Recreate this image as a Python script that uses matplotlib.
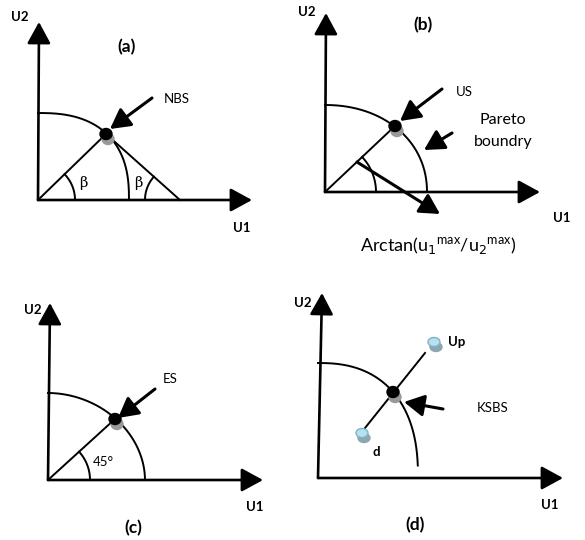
import numpy as np
import matplotlib.pyplot as plt
from matplotlib.patches import Ellipse

# Four bargaining-solution sketches, drawn in pixel space (y down).
panels = ["(a)", "(b)", "(c)", "(d)"]
origins = [(38, 200), (325, 192), (48, 480), (318, 478)]
y_tips = [(39, 22), (326, 13), (50, 303), (322, 293)]
x_tips = [(252, 200), (540, 192), (263, 480), (563, 478)]
arc_rx = [91, 102, 97, 100]
arc_ry = [87, 87, 87, 115]
arc_pow = [2.5, 2.1, 1.95, 2.4]
arc_span = [(0, 90), (0, 90), (0, 90), (4, 90)]
sol_pts = [(106, 134), (395, 126), (115, 419), (393, 392)]
sol_names = ["NBS", "US", "ES", "KSBS"]
sol_arrow_from = [(152, 98), (442, 89), (155, 389), (443, 409)]
sol_arrow_to = [(110, 129), (400, 121), (118, 418), (404, 402)]
sol_text_at = [(164, 99), (456, 92), (163, 379), (477, 408)]
title_at = [(127, 47), (423, 25), (133, 528), (415, 525)]
u1_at = [(242, 228), (562, 218), (255, 507), (550, 505)]
u2_at = [(20, 17), (307, 12), (33, 310), (303, 303)]

# extra bits per panel
a_far_vertex = (180, 200)
beta_r = 37
b_pareto_from, b_pareto_to = (452, 133), (424, 150)
b_arctan_from, b_arctan_to = (357, 162), (440, 214)
b_angle_r = 51
c_angle_r = 42
d_d, d_up = (362, 433), (434, 342)
d_seg = [(365, 428), (425, 353)]


def arc_xy(o, rx, ry, p, a0, a1, n=200):
    t = np.radians(np.linspace(a0, a1, n))
    c, s = np.cos(t), np.sin(t)
    x = o[0] + rx * np.sign(c) * np.abs(c) ** (2 / p)
    y = o[1] - ry * np.sign(s) * np.abs(s) ** (2 / p)
    return x, y


def circ_arc(ax, c, r, a0, a1, **kw):
    t = np.radians(np.linspace(a0, a1, 80))
    ax.plot(c[0] + r * np.cos(t), c[1] - r * np.sin(t), color="black", lw=1.4, **kw)


def arrow(ax, start, tip, lw=2.0, ms=20):
    ax.annotate("", xy=tip, xytext=start,
                arrowprops=dict(arrowstyle="-|>,head_length=0.55,head_width=0.3",
                                color="black", lw=lw, mutation_scale=ms,
                                shrinkA=0, shrinkB=0))


def dot(ax, p, face="black", edge="black", shadow="#999999", w=12, h=11):
    ax.add_patch(Ellipse((p[0] + 2, p[1] + 5), w, h, color=shadow, zorder=4))
    ax.add_patch(Ellipse(p, w, h, facecolor=face, edgecolor=edge, lw=1, zorder=5))


def ang(o, p):
    return np.degrees(np.arctan2(o[1] - p[1], p[0] - o[0]))


FONT = ["Lato", "DejaVu Sans"]
fig = plt.figure(figsize=(5.85, 5.4), dpi=100)
ax = fig.add_axes([0, 0, 1, 1])
ax.set_xlim(0, 585)
ax.set_ylim(540, 0)
ax.axis("off")

for i in range(4):
    o = origins[i]
    arrow(ax, o, y_tips[i], lw=1.9, ms=24)
    arrow(ax, o, x_tips[i], lw=1.9, ms=24)
    x, y = arc_xy(o, arc_rx[i], arc_ry[i], arc_pow[i], *arc_span[i])
    ax.plot(x, y, color="black", lw=1.4)
    if i < 3:
        ax.plot([o[0], sol_pts[i][0]], [o[1], sol_pts[i][1]], color="black", lw=1.4)
    arrow(ax, sol_arrow_from[i], sol_arrow_to[i], lw=2.2, ms=22)
    ax.text(*sol_text_at[i], sol_names[i], fontsize=9.5, family=FONT,
            ha="left", va="center")
    ax.text(*title_at[i], panels[i], fontsize=12.5, weight="bold", family=FONT,
            ha="center", va="center")
    ax.text(*u1_at[i], "U1", fontsize=9.5, weight="bold", family=FONT,
            ha="center", va="center")
    ax.text(*u2_at[i], "U2", fontsize=9.5, weight="bold", family=FONT,
            ha="center", va="center")

# (a) NBS
o, p = origins[0], sol_pts[0]
ax.plot([p[0], a_far_vertex[0]], [p[1], a_far_vertex[1]], color="black", lw=1.4)
circ_arc(ax, o, beta_r, 0, ang(o, p))
circ_arc(ax, a_far_vertex, 35, ang(a_far_vertex, p), 180)
ax.text(83, 183, "β", fontsize=10.5, family="DejaVu Serif", ha="center", va="center")
ax.text(138, 183, "β", fontsize=10.5, family="DejaVu Serif", ha="center", va="center")
dot(ax, p)

# (b) US
o, p = origins[1], sol_pts[1]
circ_arc(ax, o, b_angle_r, 0, ang(o, p))
arrow(ax, b_pareto_from, b_pareto_to, lw=2.2, ms=22)
arrow(ax, b_arctan_from, b_arctan_to, lw=2.2, ms=22)
ax.text(503, 120, "Pareto", fontsize=11.5, family=FONT, ha="center", va="center")
ax.text(503, 142, "boundry", fontsize=11.5, family=FONT, ha="center", va="center")
ax.text(438, 246, r"Arctan(u$_1$$^{\mathregular{max}}$/u$_2$$^{\mathregular{max}}$)",
        fontsize=13, family=FONT, ha="center", va="center")
dot(ax, p)

# (c) ES
o, p = origins[2], sol_pts[2]
circ_arc(ax, o, c_angle_r, 0, ang(o, p))
ax.text(103, 462, "45°", fontsize=9.5, family=FONT, ha="center", va="center")
dot(ax, p)

# (d) KSBS
ax.plot([d_seg[0][0], d_seg[1][0]], [d_seg[0][1], d_seg[1][1]], color="black", lw=1.4)
dot(ax, sol_pts[3])
dot(ax, d_d, face="#b7e1ee", edge="#7fb3c4", shadow="#8fa6b0", w=12, h=9)
dot(ax, d_up, face="#b7e1ee", edge="#7fb3c4", shadow="#8fa6b0", w=12, h=9)
ax.text(448, 342, "Up", fontsize=9.5, weight="bold", family=FONT, ha="left", va="center")
ax.text(376, 452, "d", fontsize=9.5, weight="bold", family=FONT, ha="center", va="center")

fig.savefig("out.png", dpi=100)
